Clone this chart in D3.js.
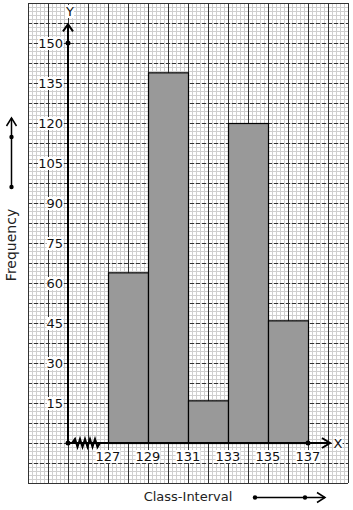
<!DOCTYPE html>
<html>
<head>
<meta charset="utf-8">
<script src="https://cdn.jsdelivr.net/npm/d3@7"></script>
<style>
body { margin: 0; background: #fff; }
text { font-family: "DejaVu Sans", sans-serif; }
</style>
</head>
<body>
<div id="chart-area"></div>
<script>
var width = 353;
var height = 510;

// data
var classStarts = [127, 129, 131, 133, 135];
var frequencies = [64, 139, 16, 120, 46];
var xTickLabels = [127, 129, 131, 133, 135, 137];
var yTickLabels = [15, 30, 45, 60, 75, 90, 105, 120, 135, 150];

var svg = d3.select("#chart-area").append("svg")
.attr("width", width)
.attr("height", height)

// graph paper runs from 123 to 139 and -15 to 165
var x = d3.scaleLinear().domain([123, 139]).range([28, 348])
var y = d3.scaleLinear().domain([-15, 165]).range([483, 3])

var grid = svg.append("g")

// minor lines every 4px
grid.selectAll(".vminor").data(d3.range(0, 81).map(i => 123 + i * 0.2))
.enter().append("line")
.attr("x1", d => Math.round(x(d)) + 0.5).attr("x2", d => Math.round(x(d)) + 0.5)
.attr("y1", y(165)).attr("y2", y(-15))
.attr("stroke", "#cfcfcf").attr("stroke-width", 1)

grid.selectAll(".hminor").data(d3.range(0, 121).map(i => -15 + i * 1.5))
.enter().append("line")
.attr("y1", d => Math.round(y(d)) + 0.5).attr("y2", d => Math.round(y(d)) + 0.5)
.attr("x1", x(123)).attr("x2", x(139))
.attr("stroke", "#cfcfcf").attr("stroke-width", 1)

// major lines every 20px
grid.selectAll(".vmajor").data(d3.range(0, 17).map(i => 123 + i))
.enter().append("line")
.attr("x1", d => Math.round(x(d)) + 0.5).attr("x2", d => Math.round(x(d)) + 0.5)
.attr("y1", y(165)).attr("y2", y(-15))
.attr("stroke", "#333").attr("stroke-width", 1)

grid.selectAll(".hmajor").data(d3.range(0, 25).map(i => -15 + i * 7.5))
.enter().append("line")
.attr("y1", d => Math.round(y(d)) + 0.5).attr("y2", d => Math.round(y(d)) + 0.5)
.attr("x1", x(123)).attr("x2", x(139))
.attr("stroke", "#333").attr("stroke-width", 1)
.attr("stroke-dasharray", d => (d === -15 || d === 165) ? null : "4,2")

// bars
svg.selectAll(".bar").data(classStarts)
.enter().append("rect")
.attr("x", d => x(d) + 0.5)
.attr("y", (d, i) => y(frequencies[i]) + 0.5)
.attr("width", x(129) - x(127))
.attr("height", (d, i) => y(0) - y(frequencies[i]))
.attr("fill", "#999")
.attr("stroke", "#000")
.attr("stroke-width", 1.2)

// axes
var ox = x(125), oy = y(0);

svg.append("line")
.attr("x1", ox).attr("x2", ox)
.attr("y1", oy).attr("y2", y(157))
.attr("stroke", "#000").attr("stroke-width", 2)
svg.append("path")
.attr("d", "M" + (ox - 5) + "," + (y(157) + 7) + "L" + ox + "," + y(157) + "L" + (ox + 5) + "," + (y(157) + 7))
.attr("fill", "none").attr("stroke", "#000").attr("stroke-width", 2)

svg.append("line")
.attr("x1", ox).attr("x2", x(138.1))
.attr("y1", oy).attr("y2", oy)
.attr("stroke", "#000").attr("stroke-width", 2)
svg.append("path")
.attr("d", "M" + (x(138.1) - 8) + "," + (oy - 5) + "L" + x(138.1) + "," + oy + "L" + (x(138.1) - 8) + "," + (oy + 5))
.attr("fill", "none").attr("stroke", "#000").attr("stroke-width", 2)

// axis break zigzag
var zz = "M" + (ox + 4) + "," + oy
d3.range(0, 10).forEach(i => {
	zz += "L" + (ox + 7 + i * 2.5) + "," + (oy + (i % 2 ? 4 : -4))
})
zz += "L" + (ox + 32) + "," + oy
svg.append("path").attr("d", zz)
.attr("fill", "none").attr("stroke", "#000").attr("stroke-width", 2)

svg.selectAll(".dot").data([[ox, oy], [ox, y(150)], [x(137), oy]])
.enter().append("circle")
.attr("cx", d => d[0]).attr("cy", d => d[1]).attr("r", 2.5)
.attr("fill", "#000")

// tick labels with white backing
function label(g, txt, px, py, anchor) {
	var t = g.append("text")
	.attr("x", px).attr("y", py)
	.attr("text-anchor", anchor)
	.attr("font-size", "13px")
	.attr("fill", "#111")
	.text(txt)
	var b = t.node().getBBox()
	g.insert("rect", "text")
	.attr("x", b.x).attr("y", b.y + 1)
	.attr("width", b.width).attr("height", b.height - 2)
	.attr("fill", "#fff")
	return t
}

yTickLabels.forEach(v => {
	var g = svg.append("g")
	label(g, v, ox - 5, y(v) + 5, "end")
})
xTickLabels.forEach(v => {
	var g = svg.append("g")
	label(g, v, x(v), oy + 18, "middle")
})
label(svg.append("g"), "Y", ox + 2, 16, "middle")
label(svg.append("g"), "X", x(138.1) + 8, oy + 5, "middle")

// axis titles
svg.append("text")
.attr("transform", "translate(16, 245) rotate(-90)")
.attr("text-anchor", "middle")
.attr("font-size", "14px")
.attr("fill", "#222")
.text("Frequency")

svg.append("text")
.attr("x", 188).attr("y", 501)
.attr("text-anchor", "middle")
.attr("font-size", "13px")
.attr("fill", "#222")
.text("Class-Interval")

// direction arrows
svg.append("line").attr("x1", 11.5).attr("x2", 11.5).attr("y1", 187).attr("y2", 118)
.attr("stroke", "#000").attr("stroke-width", 1.5)
svg.append("path").attr("d", "M6.5,126L11.5,118L16.5,126")
.attr("fill", "none").attr("stroke", "#000").attr("stroke-width", 1.5)
svg.selectAll(".ldot").data([187, 137]).enter().append("circle")
.attr("cx", 11.5).attr("cy", d => d).attr("r", 2.2).attr("fill", "#000")

svg.append("line").attr("x1", 255).attr("x2", 325).attr("y1", 497.5).attr("y2", 497.5)
.attr("stroke", "#000").attr("stroke-width", 1.5)
svg.append("path").attr("d", "M317,492.5L325,497.5L317,502.5")
.attr("fill", "none").attr("stroke", "#000").attr("stroke-width", 1.5)
svg.selectAll(".bdot").data([255, 305]).enter().append("circle")
.attr("cx", d => d).attr("cy", 497.5).attr("r", 2.2).attr("fill", "#000")
</script>
</body>
</html>
